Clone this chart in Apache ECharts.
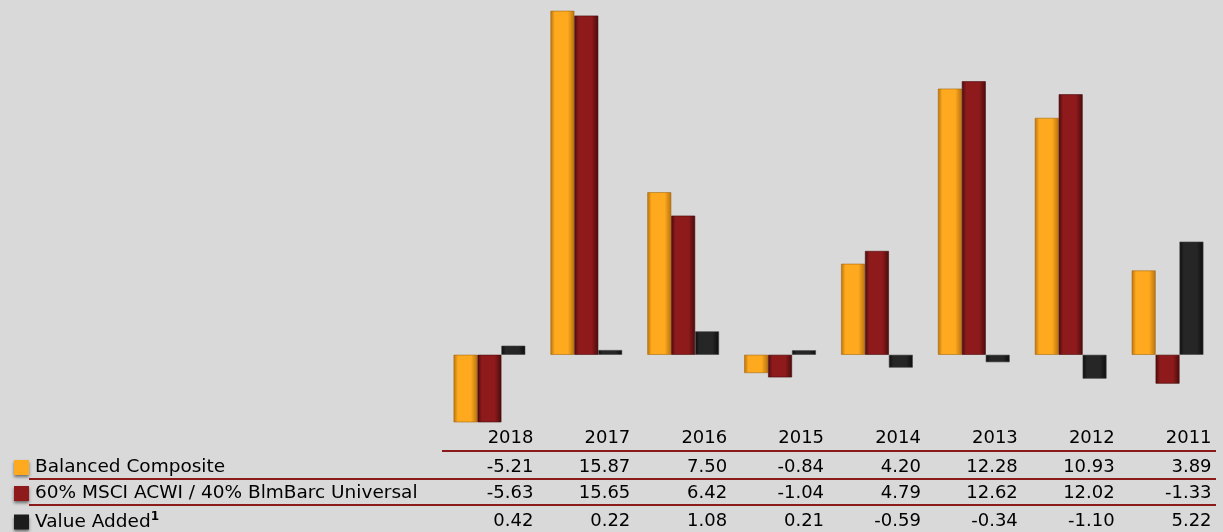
<!DOCTYPE html>
<html lang="en">
<head>
    <meta charset="UTF-8">
    <title>balanced composite</title>
    <script src="https://cdn.jsdelivr.net/npm/echarts@6/dist/echarts.min.js"></script>
    <style>
        html, body {margin: 0; padding: 0; background: #d9d9d9;}
        #chart {width: 1223px; height: 532px;}
    </style>
</head>
<body>
<div id="chart"></div>
<script>
    // data
    let years = ['2018', '2017', '2016', '2015', '2014', '2013', '2012', '2011'];
    let balanced = [-5.21, 15.87, 7.50, -0.84, 4.20, 12.28, 10.93, 3.89];
    let msci = [-5.63, 15.65, 6.42, -1.04, 4.79, 12.62, 12.02, -1.33];
    let valueAdded = [0.42, 0.22, 1.08, 0.21, -0.59, -0.34, -1.10, 5.22];
    let names = ['Balanced Composite', '60% MSCI ACWI / 40% BlmBarc Universal', 'Value Added'];
    let swatch = ['#ffaa1e', '#8e1a1c', '#1c1c1c'];

    let font = 'DejaVu Sans';

    // bevel look: dark edge, flat middle, dark edge
    function bevel(edge, mid) {
        return new echarts.graphic.LinearGradient(0, 0, 1, 0, [
            {offset: 0, color: edge},
            {offset: 0.18, color: mid},
            {offset: 0.72, color: mid},
            {offset: 1, color: edge}
        ]);
    }

    function rowAxis(row, offset) {
        return {
            type: 'category',
            data: years,
            position: 'bottom',
            offset: offset,
            axisLine: {show: false},
            axisTick: {show: false},
            axisLabel: {
                margin: 7,
                formatter: (v, i) => '{a|' + row[i].toFixed(2) + '}',
                rich: {a: {width: 88, align: 'right', fontFamily: font, fontSize: 18, color: '#000'}}
            }
        };
    }

    function oneLegend(i, top, fmt) {
        return {
            data: [names[i]],
            left: 9,
            top: top,
            icon: 'rect',
            itemWidth: 15,
            itemHeight: 15,
            itemGap: 0,
            selectedMode: false,
            itemStyle: {color: swatch[i], borderWidth: 0, shadowBlur: 3, shadowColor: 'rgba(0,0,0,0.5)', shadowOffsetY: 2},
            formatter: fmt,
            textStyle: {
                fontFamily: font, fontSize: 18.5, color: '#000', padding: [0, 0, 0, 1],
                rich: {sup: {fontFamily: font, fontSize: 12, fontWeight: 'bold', color: '#000', verticalAlign: 'top', padding: [0, 0, 10, 0]}}
            }
        };
    }

    let myChart = echarts.init(document.getElementById('chart'));
    let option = {
        backgroundColor: '#d9d9d9',
        animation: false,
        grid: {left: 441, right: 7, top: 8, bottom: 110},
        legend: [
            oneLegend(0, 453),
            oneLegend(1, 479),
            oneLegend(2, 506, () => 'Value Added{sup|1}')
        ],
        xAxis: [
            {
                type: 'category',
                data: years,
                position: 'bottom',
                axisLine: {show: false},
                axisTick: {show: false},
                axisLabel: {
                    margin: 7,
                    formatter: v => '{a|' + v + '}',
                    rich: {a: {width: 88, align: 'right', fontFamily: font, fontSize: 18, color: '#000'}}
                }
            },
            rowAxis(balanced, 29),
            rowAxis(msci, 55),
            rowAxis(valueAdded, 83)
        ],
        yAxis: {
            type: 'value',
            min: -3.1,
            max: 16,
            show: false,
            splitLine: {show: false}
        },
        series: [
            {
                name: names[0], type: 'bar', data: balanced, barGap: '0%', barCategoryGap: '26%', clip: true,
                itemStyle: {color: bevel('#b8720e', '#ffaa1e'), borderColor: '#a8690f', borderWidth: 0.6}
            },
            {
                name: names[1], type: 'bar', data: msci, barGap: '0%', barCategoryGap: '26%', clip: true,
                itemStyle: {color: bevel('#4a0c0c', '#8e1a1c'), borderColor: '#4a0c0c', borderWidth: 0.6}
            },
            {
                name: names[2], type: 'bar', data: valueAdded, barGap: '0%', barCategoryGap: '26%', clip: true,
                itemStyle: {color: bevel('#0c0c0c', '#262626'), borderColor: '#444', borderWidth: 0.6}
            }
        ],
        graphic: [
            {type: 'line', shape: {x1: 442, y1: 451, x2: 1216, y2: 451}, style: {stroke: '#8b1a1a', lineWidth: 2}},
            {type: 'line', shape: {x1: 29, y1: 479, x2: 1216, y2: 479}, style: {stroke: '#8b1a1a', lineWidth: 2}},
            {type: 'line', shape: {x1: 29, y1: 505, x2: 1216, y2: 505}, style: {stroke: '#8b1a1a', lineWidth: 2}}
        ]
    };
    myChart.setOption(option);
</script>
</body>
</html>
